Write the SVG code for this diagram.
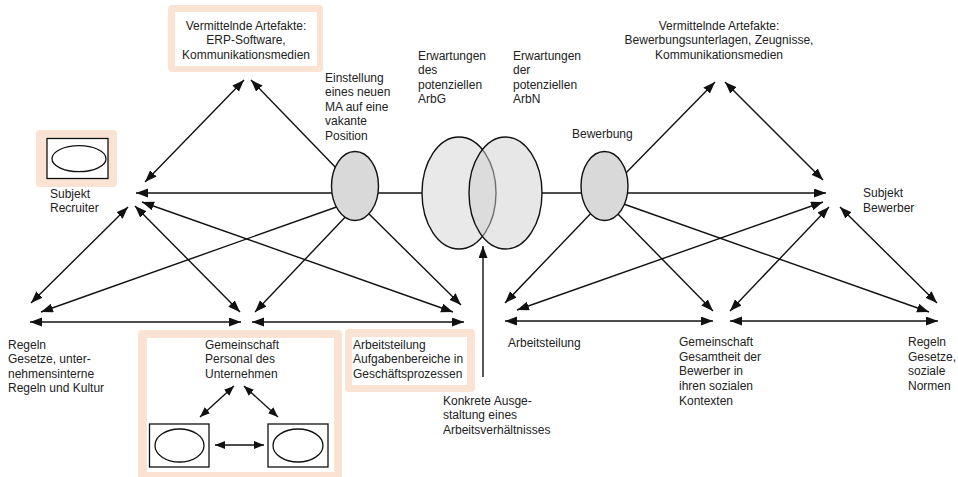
<svg xmlns="http://www.w3.org/2000/svg" width="958" height="477" viewBox="0 0 958 477">
<defs>
<marker id="a" markerUnits="userSpaceOnUse" markerWidth="13" markerHeight="10" refX="12" refY="4.5" orient="auto-start-reverse"><path d="M0,0 L12,4.5 L0,9 z" fill="#111"/></marker>
<marker id="s" markerUnits="userSpaceOnUse" markerWidth="11" markerHeight="9" refX="10" refY="4" orient="auto-start-reverse"><path d="M0,0 L10,4 L0,8 z" fill="#111"/></marker>
</defs>
<style>
text{font-family:"Liberation Sans",Arial,sans-serif;font-size:12px;fill:#222}
.c line{stroke:#111;stroke-width:1.4;fill:none}
.d{marker-start:url(#a);marker-end:url(#a)}
.e{marker-end:url(#a)}
.sd{marker-start:url(#s);marker-end:url(#s)}
.pe{fill:#fae3d3}
.wh{fill:#fff}
.fr{fill:#fff;stroke:#111;stroke-width:1.3}
.ov{fill:none;stroke:#111;stroke-width:1.3}
.mid{text-anchor:middle}
</style>
<rect width="958" height="477" fill="#fff"/>
<g class="c" id="connectors">
<line class="d" x1="145" y1="182" x2="244" y2="80"/>
<line class="e" x1="340" y1="172" x2="251" y2="80"/>
<line class="e" x1="345" y1="193" x2="136" y2="193"/>
<line class="d" x1="128" y1="207" x2="31" y2="303"/>
<line class="d" x1="135" y1="206" x2="240" y2="312"/>
<line class="d" x1="142" y1="202" x2="453" y2="312"/>
<line class="e" x1="345" y1="204" x2="41" y2="312"/>
<line class="e" x1="350" y1="212" x2="255" y2="312"/>
<line class="e" x1="365" y1="210" x2="461" y2="305"/>
<line class="d" x1="30" y1="322" x2="241" y2="322"/>
<line class="d" x1="252" y1="322" x2="464" y2="322"/>
<line x1="370" y1="193" x2="430" y2="193"/>
<line x1="542" y1="193" x2="590" y2="193"/>
<line class="e" x1="620" y1="179" x2="715" y2="82"/>
<line class="d" x1="725" y1="82" x2="823" y2="180"/>
<line class="e" x1="615" y1="193" x2="826" y2="193"/>
<line class="d" x1="823" y1="202" x2="517" y2="310"/>
<line class="d" x1="829" y1="207" x2="730" y2="311"/>
<line class="d" x1="840" y1="207" x2="937" y2="303"/>
<line class="e" x1="596" y1="208" x2="505" y2="303"/>
<line class="e" x1="612" y1="208" x2="713" y2="311"/>
<line class="e" x1="618" y1="202" x2="929" y2="312"/>
<line class="d" x1="505" y1="321" x2="713" y2="321"/>
<line class="d" x1="730" y1="321" x2="938" y2="321"/>
<line class="e" x1="483" y1="377" x2="483" y2="246"/>
</g>
<g id="artefakte-links">
<rect class="pe" x="168" y="5" width="155" height="67" rx="4"/>
<rect class="wh" x="175" y="12" width="142" height="54"/>
<text class="mid" x="246" y="29.5">Vermittelnde Artefakte:</text>
<text class="mid" x="246" y="44">ERP-Software,</text>
<text class="mid" x="246" y="58.5">Kommunikationsmedien</text>
</g>
<g id="subjekt-recruiter">
<rect class="pe" x="36" y="130" width="81" height="57" rx="4"/>
<rect class="fr" x="47" y="138.5" width="61" height="40"/>
<ellipse class="ov" cx="79" cy="158.7" rx="27" ry="13"/>
<text x="50" y="197.5">Subjekt</text>
<text x="50" y="212">Recruiter</text>
</g>
<g id="einstellung">
<ellipse cx="355" cy="186" rx="23.5" ry="34.5" fill="#d9d9d9" stroke="#111" stroke-width="1.4"/>
<text x="325" y="81.5">Einstellung</text>
<text x="325" y="96">eines neuen</text>
<text x="325" y="110.5">MA auf eine</text>
<text x="325" y="125">vakante</text>
<text x="325" y="139.5">Position</text>
</g>
<g id="erwartungen">
<ellipse cx="459" cy="193" rx="37" ry="56" fill="#e9e9e9" stroke="#111" stroke-width="1.4"/>
<ellipse cx="505.5" cy="193" rx="36.5" ry="56" fill="#d0d0d0" fill-opacity="0.5" stroke="#111" stroke-width="1.4"/>
<text x="418" y="59.5">Erwartungen</text>
<text x="418" y="74">des</text>
<text x="418" y="88.5">potenziellen</text>
<text x="418" y="103">ArbG</text>
<text x="513" y="59.5">Erwartungen</text>
<text x="513" y="74">der</text>
<text x="513" y="88.5">potenziellen</text>
<text x="513" y="103">ArbN</text>
</g>
<g id="bewerbung">
<ellipse cx="604.5" cy="186" rx="23.5" ry="34.5" fill="#d9d9d9" stroke="#111" stroke-width="1.4"/>
<text x="572" y="137.5">Bewerbung</text>
</g>
<g id="artefakte-rechts">
<text class="mid" x="719" y="29.5">Vermittelnde Artefakte:</text>
<text class="mid" x="719" y="44">Bewerbungsunterlagen, Zeugnisse,</text>
<text class="mid" x="719" y="58.5">Kommunikationsmedien</text>
</g>
<g id="subjekt-bewerber">
<text x="863" y="197">Subjekt</text>
<text x="863" y="211.5">Bewerber</text>
</g>
<g id="regeln-links">
<text x="8" y="348.5">Regeln</text>
<text x="8" y="363">Gesetze, unter-</text>
<text x="8" y="377.5">nehmensinterne</text>
<text x="8" y="392">Regeln und Kultur</text>
</g>
<g id="gemeinschaft-links">
<rect class="pe" x="138" y="330" width="204" height="150" rx="4"/>
<rect class="wh" x="147" y="338" width="187" height="134"/>
<text x="205" y="348.5">Gemeinschaft</text>
<text x="205" y="363">Personal des</text>
<text x="205" y="377.5">Unternehmen</text>
<rect class="fr" x="149.5" y="424" width="59.5" height="43"/>
<ellipse class="ov" cx="179.5" cy="445.5" rx="24.5" ry="16.5"/>
<rect class="fr" x="268" y="424" width="60" height="43"/>
<ellipse class="ov" cx="298" cy="445.5" rx="25" ry="16.5"/>
<g class="c">
<line class="sd" x1="234" y1="386" x2="200" y2="417"/>
<line class="sd" x1="244" y1="386" x2="278" y2="417"/>
<line class="sd" x1="215" y1="445" x2="264" y2="445"/>
</g>
</g>
<g id="arbeitsteilung-links">
<rect class="pe" x="345" y="329" width="130" height="63" rx="4"/>
<rect class="wh" x="352" y="337" width="115" height="48"/>
<text x="353" y="348.5">Arbeitsteilung</text>
<text x="353" y="363">Aufgabenbereiche in</text>
<text x="353" y="377.5">Geschäftsprozessen</text>
</g>
<g id="konkrete-ausgestaltung">
<text x="443" y="404.5">Konkrete Ausge-</text>
<text x="443" y="419">staltung eines</text>
<text x="443" y="433.5">Arbeitsverhältnisses</text>
</g>
<g id="arbeitsteilung-rechts">
<text x="508" y="346.5">Arbeitsteilung</text>
</g>
<g id="gemeinschaft-rechts">
<text x="679" y="345.5">Gemeinschaft</text>
<text x="679" y="360.5">Gesamtheit der</text>
<text x="679" y="375">Bewerber in</text>
<text x="679" y="390">ihren sozialen</text>
<text x="679" y="404.5">Kontexten</text>
</g>
<g id="regeln-rechts">
<text x="908" y="345.5">Regeln</text>
<text x="908" y="360.5">Gesetze,</text>
<text x="908" y="375">soziale</text>
<text x="908" y="390">Normen</text>
</g>
</svg>
